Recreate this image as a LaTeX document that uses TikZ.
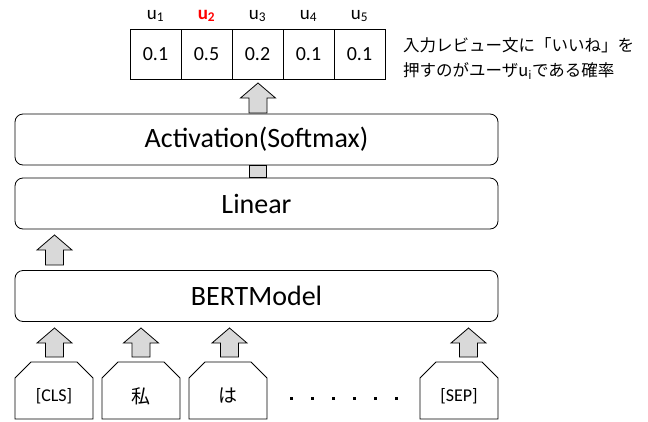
\documentclass[tikz,border=0pt]{standalone}
\usepackage{fontspec}
\setmainfont{Carlito}
\newfontfamily\jp{Noto Sans CJK JP}
\usetikzlibrary{calc}
\definecolor{arrgray}{HTML}{D9D9D9}
\newcommand\blockarr[3]{% center x, top y, bottom y
  \draw[arrshape] ({#1-9},#3) -- ({#1-9},{#2+15}) -- ({#1-17.5},{#2+15}) -- (#1,#2) -- ({#1+17.5},{#2+15}) -- ({#1+9},{#2+15}) -- ({#1+9},#3) -- cycle;}
\newcommand\tokenbox[3]{% name, center x, text
  \node[tok] (#1) at (#2,396) {#3};
  \draw[lw, line join=miter] ({#2-39},419) -- ({#2-39},378) -- ({#2-23},362) -- ({#2+23},362) -- ({#2+39},378) -- ({#2+39},419) -- cycle;}
\begin{document}
\begin{tikzpicture}[x=1pt,y=-1pt,
  lw/.style={draw=black, line width=0.8pt},
  layer/.style={lw, rounded corners=8pt, minimum width=483pt, minimum height=51pt, inner sep=0pt, font=\fontsize{28}{32}\selectfont},
  cell/.style={lw, minimum width=51pt, minimum height=50pt, inner sep=0pt, outer sep=0pt, font=\fontsize{20}{24}\selectfont},
  ulab/.style={font=\fontsize{19}{22}\selectfont, inner sep=0pt},
  tok/.style={inner sep=0pt, font=\fontsize{18}{20}\selectfont},
  arrshape/.style={lw, fill=arrgray, line join=miter},
  side/.style={inner sep=0pt, anchor=west, font=\jp\fontsize{16.5}{18}\selectfont}]
\useasboundingbox (0,0) rectangle (648,421);
\clip (0,0) rectangle (648,421);

% output table
\foreach \i/\v/\x in {1/0.1/155.5, 2/0.5/206.5, 3/0.2/257.5, 4/0.1/308.5, 5/0.1/359.5}{
  \node[cell] (c\i) at (\x,54) {\v};
}
\node[ulab] (u1) at (155.5,16) {u\textsubscript{1}};
\node[ulab, text=red] (u2) at (206.5,16) {\textbf{u\textsubscript{2}}};
\node[ulab] (u3) at (257.5,16) {u\textsubscript{3}};
\node[ulab] (u4) at (308.5,16) {u\textsubscript{4}};
\node[ulab] (u5) at (359.5,16) {u\textsubscript{5}};

\node[side] (s1) at (403,45) {入力レビュー文に「いいね」を};
\node[side] (s2) at (403,71) {押すのがユーザu\textsubscript{i}である確率};

% layers
\node[layer] (act) at (256.5,139.5) {Activation(Softmax)};
\node[layer] (lin) at (256.5,203.5) {Linear};
\node[layer] (bert) at (256.5,296) {BERTModel};

% arrows
\blockarr{258}{83}{113}
\draw[arrshape] (249,{165.5}) rectangle (266,{177.5});
\blockarr{54.5}{235}{265}

% tokens
\tokenbox{cls}{54}{[CLS]}
\tokenbox{wa}{141}{\jp\fontsize{19}{20}\selectfont 私}
\tokenbox{ha}{228}{\jp\fontsize{19}{20}\selectfont は}
\tokenbox{sep}{459}{[SEP]}
\foreach \x in {54.5,141,229.5,468.5}{\blockarr{\x}{328}{357}}
\foreach \x in {291,312,333,354,375,396}{\fill (\x-1.5,396.5) rectangle (\x+1.5,399.5);}
\end{tikzpicture}
\end{document}
